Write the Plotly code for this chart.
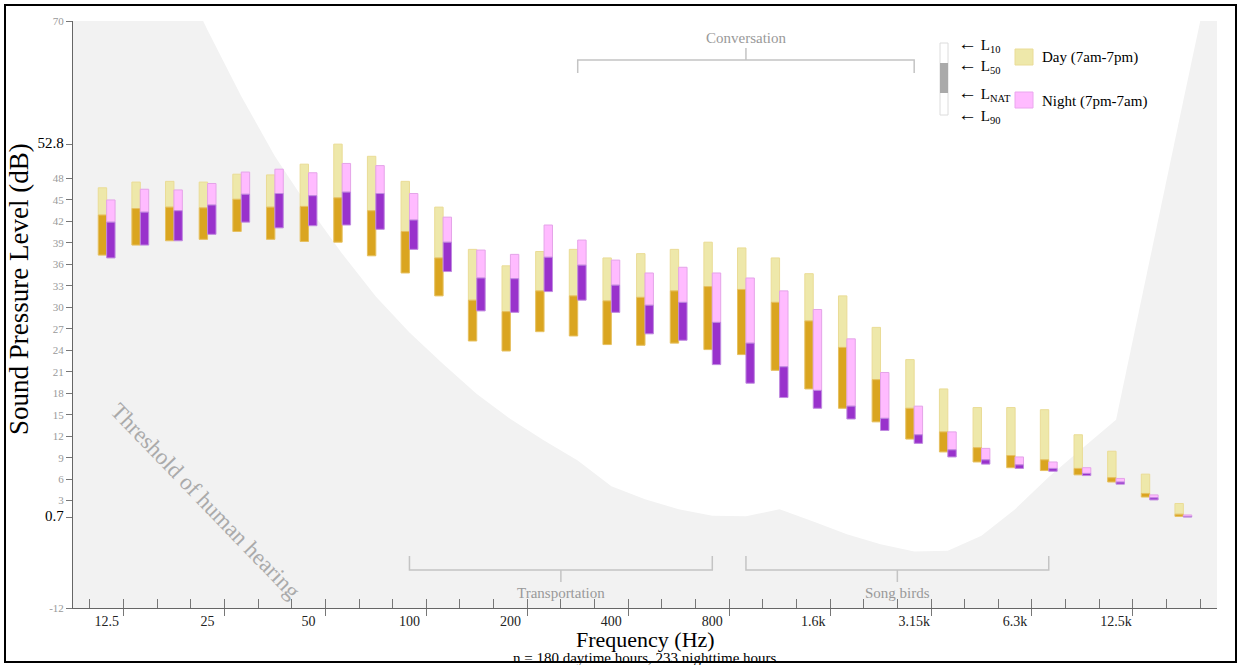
import plotly.graph_objects as go

bands = ["12.5", "16", "20", "25", "31.5", "40", "50", "63", "80", "100", "125", "160",
         "200", "250", "315", "400", "500", "630", "800", "1k", "1.25k", "1.6k", "2k",
         "2.5k", "3.15k", "4k", "5k", "6.3k", "8k", "10k", "12.5k", "16k", "20k"]
label_idx = [0, 3, 6, 9, 12, 15, 18, 21, 24, 27, 30]

day_l10 = [46.7, 47.5, 47.6, 47.5, 48.6, 48.5, 50.0, 52.8, 51.1, 47.6, 44.0, 38.1, 35.8, 37.8, 38.1, 36.9, 37.5,
           38.1, 39.1, 38.3, 36.9, 34.7, 31.6, 27.2, 22.7, 18.6, 16.0, 16.0, 15.7, 12.2, 9.9, 6.7, 2.6]
day_l50 = [42.9, 43.8, 44.0, 43.9, 45.1, 44.0, 44.1, 45.3, 43.5, 40.6, 36.9, 31.0, 29.4, 32.3, 31.6, 30.9, 31.4,
           32.3, 32.9, 32.5, 30.7, 28.1, 24.4, 19.9, 15.9, 12.6, 10.4, 9.3, 8.7, 7.5, 6.2, 4.0, 1.1]
day_l90 = [37.3, 38.7, 39.3, 39.5, 40.6, 39.5, 39.2, 39.1, 37.2, 34.8, 31.6, 25.3, 23.9, 26.6, 26.0, 24.8, 24.7,
           25.0, 24.1, 23.4, 21.2, 18.6, 15.9, 14.0, 11.6, 9.8, 8.4, 7.6, 7.2, 6.6, 5.6, 3.5, 0.8]
night_l10 = [45.0, 46.5, 46.4, 47.3, 48.9, 49.3, 48.8, 50.1, 49.8, 45.9, 42.6, 38.0, 37.4, 41.5, 39.4, 36.6, 34.8,
             35.6, 34.8, 34.1, 32.3, 29.7, 25.6, 20.9, 16.2, 12.6, 10.3, 9.1, 8.4, 7.6, 6.1, 3.8, 1.0]
night_l50 = [41.9, 43.3, 43.5, 44.3, 45.8, 45.9, 45.6, 46.1, 45.9, 42.2, 39.1, 34.1, 34.0, 37.0, 35.9, 33.1, 30.3,
             30.7, 27.9, 25.0, 21.7, 18.4, 16.2, 14.5, 12.2, 10.1, 8.7, 8.0, 7.5, 6.8, 5.6, 3.4, 0.8]
night_l90 = [36.9, 38.7, 39.3, 40.2, 41.9, 41.1, 41.4, 41.5, 40.9, 38.1, 35.0, 29.5, 29.3, 32.2, 31.0, 29.3, 26.3,
             25.4, 22.0, 19.4, 17.4, 15.9, 14.4, 12.8, 11.0, 9.1, 8.1, 7.5, 7.1, 6.5, 5.3, 3.1, 0.7]

# threshold of hearing (dB) per band, plus edge extensions
threshold = [100, 90, 78.5, 68.7, 59.5, 51.1, 44.0, 37.5, 31.5, 26.5, 22.1, 17.9, 14.4, 11.4, 8.6, 5.0, 3.2,
             1.8, 0.9, 0.8, 1.8, 0.1, -1.7, -3.1, -4.1, -4.0, -1.9, 1.8, 6.3, 10.3, 14.3, 36.6, 58.9]
thr_left, thr_right = 110, 81

y_ticks = [70, 52.8, 48, 45, 42, 39, 36, 33, 30, 27, 24, 21, 18, 15, 12, 9, 6, 3, 0.7, -12]
y_special = [52.8, 0.7]

SERIF = "Liberation Serif"
idx = list(range(len(bands)))
N = len(bands)

L, R, T, B = 73, 1217, 21, 608
def px_x(px):
    return (px - L) / (R - L)
def px_y(py):
    return (B - py) / (B - T)

fig = go.Figure()

def bars(lo, hi, color, lcolor, offset, name):
    fig.add_trace(go.Bar(x=idx, y=[h - l for h, l in zip(hi, lo)], base=lo, width=0.25, offset=offset,
                         marker=dict(color=color, line=dict(color=lcolor, width=1)),
                         name=name, showlegend=False))

bars(day_l50, day_l10, "#eee8aa", "#eadc96", -0.25, "Day L10-L50")
bars(day_l90, day_l50, "#daa520", "#e6c060", -0.25, "Day L50-L90")
bars(night_l50, night_l10, "#ffbbff", "#e4a4e8", 0.0, "Night L10-L50")
bars(night_l90, night_l50, "#9932cc", "#c08ae0", 0.0, "Night L50-L90")

def ytext(v):
    if v in y_special:
        return '<span style="font-size:15px;fill:#000;color:#000">%s</span>' % v
    return str(v)

fig.update_layout(
    width=1241, height=665,
    margin=dict(l=L, r=1241 - R, t=T, b=665 - B),
    paper_bgcolor="white", plot_bgcolor="white",
    barmode="overlay",
    showlegend=False,
    font=dict(family=SERIF),
    xaxis=dict(range=[-1, N], tickmode="array", tickvals=label_idx,
               ticktext=[bands[i] for i in label_idx], ticks="", showgrid=False, zeroline=False,
               showline=True, linecolor="#666", linewidth=1,
               tickfont=dict(family=SERIF, size=14, color="#222")),
    xaxis2=dict(range=[-1, N], overlaying="x", anchor="y", side="bottom",
                tickmode="array", tickvals=[i - 0.5 for i in range(N + 1)],
                ticks="inside", ticklen=9, tickcolor="#777", showticklabels=False,
                showgrid=False, zeroline=False, showline=False),
    xaxis3=dict(range=[-1, N], overlaying="x", anchor="y", side="bottom",
                tickmode="array", tickvals=[i + 0.5 for i in label_idx],
                ticks="outside", ticklen=7, tickcolor="#777", showticklabels=False,
                showgrid=False, zeroline=False, showline=False),
    yaxis=dict(range=[-12, 70], tickmode="array", tickvals=y_ticks,
               ticktext=[ytext(v) for v in y_ticks], ticks="outside", ticklen=6, tickcolor="#777",
               showgrid=False, zeroline=False, showline=True, linecolor="#666", linewidth=1,
               tickfont=dict(family=SERIF, size=11, color="#999")),
)
fig.add_trace(go.Scatter(x=[None], y=[None], xaxis="x2", yaxis="y", showlegend=False, hoverinfo="skip"))
fig.add_trace(go.Scatter(x=[None], y=[None], xaxis="x3", yaxis="y", showlegend=False, hoverinfo="skip"))

shapes = []
# threshold region (below traces), built from the threshold arrays
pts = [(-1, thr_left)] + list(zip(idx, threshold)) + [(N, thr_right), (N, -12), (-1, -12)]
thr_path = "M " + " L ".join("%s,%s" % p for p in pts) + " Z"
shapes.append(dict(type="path", xref="x", yref="y", path=thr_path, fillcolor="#f2f2f2",
                   line=dict(width=0), layer="below"))

br = dict(color="#c4c4c4", width=1.5)
def bracket(i0, i1, y_line, y_end, y_tick):
    c = (i0 + i1) / 2
    path = "M %s,%s L %s,%s L %s,%s L %s,%s M %s,%s L %s,%s" % (
        i0, px_y(y_end), i0, px_y(y_line), i1, px_y(y_line), i1, px_y(y_end),
        c, px_y(y_line), c, px_y(y_tick))
    shapes.append(dict(type="path", xref="x", yref="paper", path=path, line=br))
    return c

c_conv = bracket(14, 24, 60, 73, 48)
c_trans = bracket(9, 18, 570, 556, 582)
c_bird = bracket(19, 28, 570, 556, 582)

# legend indicator
shapes.append(dict(type="rect", xref="paper", yref="paper", x0=px_x(940), x1=px_x(948),
                   y0=px_y(115), y1=px_y(43), fillcolor="white", line=dict(color="#dcdcdc", width=1)))
shapes.append(dict(type="rect", xref="paper", yref="paper", x0=px_x(940), x1=px_x(948),
                   y0=px_y(93), y1=px_y(63), fillcolor="#aaaaaa", line=dict(width=0)))
shapes.append(dict(type="rect", xref="paper", yref="paper", x0=px_x(1015), x1=px_x(1033),
                   y0=px_y(65), y1=px_y(49), fillcolor="#eee8aa", line=dict(color="#eadc96", width=1)))
shapes.append(dict(type="rect", xref="paper", yref="paper", x0=px_x(1015), x1=px_x(1033),
                   y0=px_y(108), y1=px_y(92), fillcolor="#ffbbff", line=dict(color="#eaa6ee", width=1)))
# outer frame
shapes.append(dict(type="rect", xref="paper", yref="paper", x0=px_x(5), x1=px_x(1236),
                   y0=px_y(662), y1=px_y(5), line=dict(color="black", width=2), fillcolor="rgba(0,0,0,0)"))
fig.update_layout(shapes=shapes)

ann = []
def txt(text, x, y, size, color="#000", xanchor="center", angle=0, xref="paper"):
    ann.append(dict(text=text, x=x if xref != "paper" else px_x(x), y=px_y(y), xref=xref, yref="paper",
                    showarrow=False, xanchor=xanchor, yanchor="middle", textangle=angle,
                    font=dict(family=SERIF, size=size, color=color)))

ARROW = '<span style="font-size:19px">←</span>'
txt("Conversation", c_conv, 38, 15, "#999", xref="x")
txt("Transportation", c_trans, 593, 15, "#999", xref="x")
txt("Song birds", c_bird, 593, 15, "#999", xref="x")
txt("Threshold of human hearing", 206, 501, 23, "#aaa", angle=46)
txt(ARROW + " L<sub>10</sub>", 956, 44, 15, xanchor="left")
txt(ARROW + " L<sub>50</sub>", 956, 65, 15, xanchor="left")
txt(ARROW + " L<sub>NAT</sub>", 956, 93, 15, xanchor="left")
txt(ARROW + " L<sub>90</sub>", 956, 115, 15, xanchor="left")
txt("Day (7am-7pm)", 1040, 57, 15, xanchor="left")
txt("Night (7pm-7am)", 1040, 101, 15, xanchor="left")
txt("Frequency (Hz)", 645, 639, 22)
txt("n = 180 daytime hours, 233 nighttime hours", 645, 658, 15)
txt("Sound Pressure Level (dB)", 19, 289, 27, angle=-90)
fig.update_layout(annotations=ann)

fig.write_html("out.html", config={"displayModeBar": False},
               post_script="document.body.style.margin='0';document.body.style.overflow='hidden';")
